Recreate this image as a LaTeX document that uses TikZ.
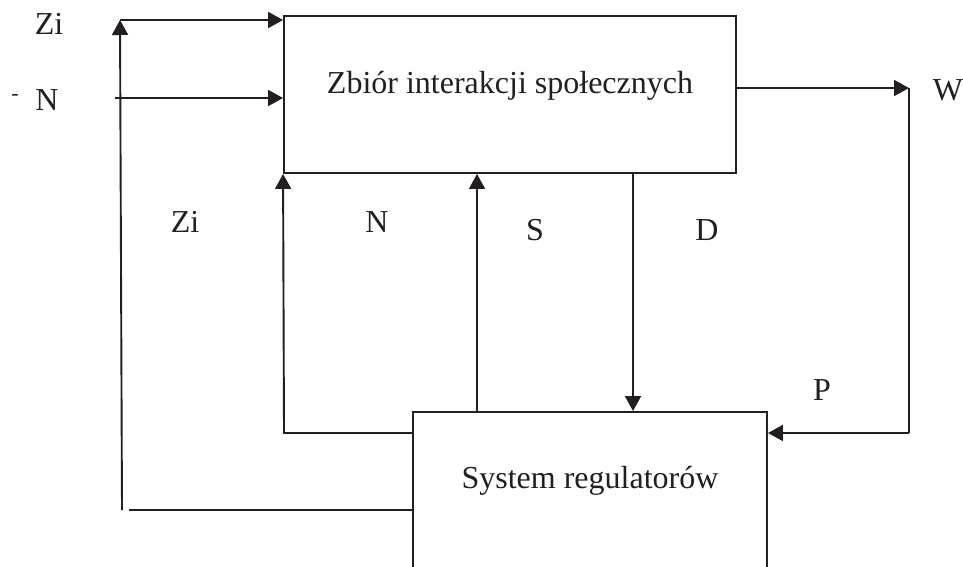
\documentclass[tikz,border=0pt]{standalone}
\usepackage{fontspec}
\setmainfont{Liberation Serif}
\usetikzlibrary{arrows.meta}
\definecolor{ink}{HTML}{231F20}
\begin{document}
\begin{tikzpicture}[x=1pt,y=-1pt,
  wire/.style={draw=ink,line width=1.9pt},
  arr/.style={wire,-{Triangle[length=15pt,width=16pt]}},
  boxstyle/.style={draw=ink,line width=1.9pt,rectangle,inner sep=0pt},
  lbl/.style={font=\fontsize{32}{38}\selectfont,text=ink,anchor=base,inner sep=0pt}]
\useasboundingbox (0,0) rectangle (963,566);
\begin{scope}
\clip (0,0) rectangle (963,566);
% boxes
\node[boxstyle,minimum width=452pt,minimum height=157pt] (top) at (510,94.5) {};
\node[boxstyle,minimum width=354pt,minimum height=200pt] (bot) at (590,512) {};
\node[lbl] (t1) at (510,93) {Zbiór interakcji społecznych};
\node[lbl] (t2) at (590,488) {System regulatorów};
% helper coordinates
\coordinate (zl) at (122,510);
\coordinate (zt) at (120,20);
\coordinate (zb) at (129,510);
\coordinate (nin) at (115,98);
\coordinate (zf) at (284,433);
\coordinate (nx) at (477,300);
\coordinate (dx) at (633,300);
\coordinate (wc) at (909,88);
\coordinate (pc) at (909,433);
% connectors
\draw[arr] (zl) -- (zt);
\draw[arr] (zt) -- (top.west |- zt);
\draw[wire] (bot.west |- zb) -- (zb);
\draw[arr] (nin) -- (top.west |- nin);
\draw[arr] (bot.west |- zf) -- (zf) -- (top.south west);
\draw[arr] (bot.north -| nx) -- (top.south -| nx);
\draw[arr] (top.south -| dx) -- (bot.north -| dx);
\draw[arr] (top.east |- wc) -- (wc);
\draw[wire] (wc) -- (pc);
\draw[arr] (pc) -- (bot.east |- pc);
% labels
\node[lbl] (zi1) at (49,34) {Zi};
\node[lbl,font=\fontsize{22}{26}\selectfont,anchor=center] (dash) at (15,97) {-};
\node[lbl] (n1) at (47,110) {N};
\node[lbl] (w) at (948,100) {W};
\node[lbl] (zi2) at (185,232) {Zi};
\node[lbl] (n2) at (377,232) {N};
\node[lbl] (s) at (535,240) {S};
\node[lbl] (d) at (707,240) {D};
\node[lbl] (p) at (822,400) {P};
\end{scope}
\end{tikzpicture}
\end{document}
